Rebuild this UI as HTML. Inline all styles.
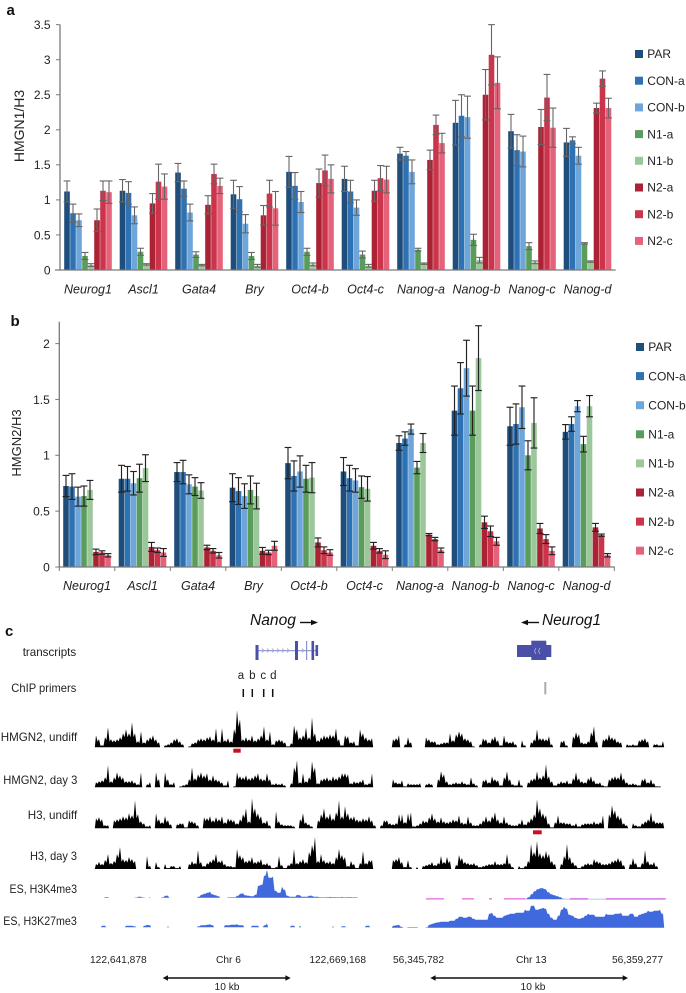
<!DOCTYPE html>
<html lang="en">
<head>
<meta charset="utf-8">
<title>HMGN1 and HMGN2 ChIP enrichment</title>
<style>
html,body{margin:0;padding:0;background:#fff;}
svg{display:block;}
text{font-family:"Liberation Sans",sans-serif;fill:#222;}
</style>
</head>
<body>
<svg id="fig" xmlns="http://www.w3.org/2000/svg" width="686" height="993" viewBox="0 0 686 993">
  <rect x="0" y="0" width="686" height="993" fill="#fff"/>
  <text x="6.5" y="15" font-size="15" font-weight="bold" style="fill:#111">a</text>
  <text x="10.5" y="326" font-size="15" font-weight="bold" style="fill:#111">b</text>
  <text x="5" y="636" font-size="15" font-weight="bold" style="fill:#111">c</text>
  <text transform="translate(24,126) rotate(-90)" text-anchor="middle" font-size="14">HMGN1/H3</text>
  <text transform="translate(21,443) rotate(-90)" text-anchor="middle" font-size="13">HMGN2/H3</text>
  <g id="chartA"></g>
  <g id="chartB"></g>

  <g>
    <text x="250" y="625" font-size="15.6" font-style="italic" style="fill:#111">Nanog</text>
    <g>
      <line x1="300" y1="622.5" x2="312" y2="622.5" stroke="#111" stroke-width="1.4"/>
      <polygon points="318,622.5 311,619.8 311,625.2" fill="#111"/>
    </g>
    <text x="542" y="625" font-size="15.4" font-style="italic" style="fill:#111">Neurog1</text>
    <g>
      <line x1="526" y1="622.5" x2="539" y2="622.5" stroke="#111" stroke-width="1.4"/>
      <polygon points="521,622.5 528,619.8 528,625.2" fill="#111"/>
    </g>
    <g fill="#4a4fa8">
      <rect x="257" y="650.2" width="60" height="1" fill="#7f83c4"/>
      <rect x="255.5" y="645" width="3" height="15"/>
      <rect x="295" y="641" width="3" height="19"/>
      <rect x="306" y="641" width="1.2" height="19" fill="#8f92cc"/>
      <rect x="311.5" y="641" width="2.6" height="19"/>
      <rect x="315.5" y="645" width="2.6" height="11"/>
      <path d="M262 648.5l2 2-2 2M267 648.5l2 2-2 2M272 648.5l2 2-2 2M277 648.5l2 2-2 2M282 648.5l2 2-2 2M287 648.5l2 2-2 2M302 648.5l2 2-2 2" fill="none" stroke="#9a9dd4" stroke-width=".8"/>
    </g>
    <g fill="#4a4fa8">
      <rect x="517" y="645" width="34.3" height="12"/>
      <rect x="531.3" y="640.7" width="15" height="19.3"/>
      <path d="M536 648l-1.5 3 1.5 3M540 648l-1.5 3 1.5 3" fill="none" stroke="#b5b7e2" stroke-width=".8"/>
    </g>
    <g font-size="11.5" text-anchor="middle">
      <text x="241" y="679">a</text><text x="252.3" y="679">b</text><text x="263.3" y="679">c</text><text x="273.3" y="679">d</text>
    </g>
    <g stroke="#111" stroke-width="1.5">
      <line x1="243.3" y1="689" x2="243.3" y2="697"/><line x1="252.3" y1="689" x2="252.3" y2="697"/><line x1="263.7" y1="689" x2="263.7" y2="697"/><line x1="272.7" y1="689" x2="272.7" y2="697"/>
    </g>
    <line x1="545.3" y1="682" x2="545.3" y2="694.3" stroke="#aaa" stroke-width="2"/>
    <g font-size="12">
      <text x="22.7" y="656" textLength="53.5" lengthAdjust="spacingAndGlyphs">transcripts</text>
      <text x="11.3" y="692" textLength="65" lengthAdjust="spacingAndGlyphs">ChIP primers</text>
      <text x="0.7" y="741" textLength="76.5" lengthAdjust="spacingAndGlyphs">HMGN2, undiff</text>
      <text x="3.3" y="784" textLength="74" lengthAdjust="spacingAndGlyphs">HMGN2, day 3</text>
      <text x="27.7" y="819" textLength="49.5" lengthAdjust="spacingAndGlyphs">H3, undiff</text>
      <text x="30" y="860" textLength="47" lengthAdjust="spacingAndGlyphs">H3, day 3</text>
      <text x="9.5" y="893" textLength="67.5" lengthAdjust="spacingAndGlyphs">ES, H3K4me3</text>
      <text x="3.3" y="925" textLength="73.5" lengthAdjust="spacingAndGlyphs">ES, H3K27me3</text>
    </g>
    <g id="tracks"></g>
    <rect x="233.3" y="748.7" width="7.4" height="4" fill="#c8101e"/>
    <rect x="533" y="830.3" width="8.7" height="4" fill="#c8101e"/>
    <g font-size="10.2">
      <text x="90" y="963">122,641,878</text>
      <text x="228.5" y="963" text-anchor="middle">Chr 6</text>
      <text x="366" y="963" text-anchor="end">122,669,168</text>
      <text x="393" y="963">56,345,782</text>
      <text x="531.3" y="963" text-anchor="middle">Chr 13</text>
      <text x="663" y="963" text-anchor="end">56,359,277</text>
    </g>
    <g>
      <line x1="166" y1="978" x2="287" y2="978" stroke="#111" stroke-width="1.5"/>
      <polygon points="162.7,978 168,975.2 168,980.8" fill="#111"/>
      <polygon points="290.7,978 285.4,975.2 285.4,980.8" fill="#111"/>
      <text x="227" y="990" text-anchor="middle" font-size="10.2">10 kb</text>
    </g>
    <g>
      <line x1="434" y1="978" x2="624" y2="978" stroke="#111" stroke-width="1.5"/>
      <polygon points="430.3,978 435.6,975.2 435.6,980.8" fill="#111"/>
      <polygon points="628,978 622.7,975.2 622.7,980.8" fill="#111"/>
      <text x="533" y="990" text-anchor="middle" font-size="10.2">10 kb</text>
    </g>
  </g>
</svg>

<script>
/* ---------- bar chart data ---------- */
var categories = ["Neurog1","Ascl1","Gata4","Bry","Oct4-b","Oct4-c","Nanog-a","Nanog-b","Nanog-c","Nanog-d"];
var seriesNames = ["PAR","CON-a","CON-b","N1-a","N1-b","N2-a","N2-b","N2-c"];
var seriesColors = ["#1f4e7d","#2f72b3","#6fa6da","#5a9c5a","#9cc79a","#aa2233","#cb344b","#e4637a"];

var hmgn1Ticks = ["0","0.5","1","1.5","2","2.5","3","3.5"];
var hmgn1Means = [
  [1.12,0.81,0.71,0.20,0.07,0.71,1.13,1.11],
  [1.13,1.10,0.78,0.26,0.08,0.95,1.26,1.19],
  [1.39,1.16,0.82,0.22,0.07,0.93,1.37,1.20],
  [1.08,1.01,0.66,0.20,0.06,0.78,1.09,0.88],
  [1.40,1.20,0.97,0.26,0.08,1.24,1.42,1.30],
  [1.30,1.12,0.89,0.22,0.06,1.13,1.31,1.29],
  [1.66,1.63,1.40,0.29,0.09,1.57,2.07,1.81],
  [2.10,2.20,2.18,0.43,0.14,2.50,3.07,2.67],
  [1.98,1.71,1.69,0.34,0.11,2.04,2.46,2.03],
  [1.82,1.85,1.63,0.38,0.12,2.31,2.73,2.31]
];
var hmgn1Errors = [
  [0.15,0.13,0.09,0.05,0.02,0.16,0.14,0.16],
  [0.16,0.16,0.12,0.05,0.01,0.14,0.25,0.18],
  [0.13,0.11,0.12,0.04,0.01,0.13,0.14,0.11],
  [0.20,0.18,0.13,0.05,0.02,0.14,0.19,0.24],
  [0.22,0.19,0.15,0.05,0.02,0.20,0.22,0.20],
  [0.18,0.16,0.11,0.05,0.02,0.15,0.18,0.19],
  [0.09,0.06,0.17,0.02,0.01,0.14,0.14,0.14],
  [0.32,0.30,0.30,0.08,0.04,0.36,0.43,0.37],
  [0.24,0.22,0.22,0.05,0.02,0.25,0.33,0.28],
  [0.20,0.05,0.12,0.01,0.01,0.07,0.11,0.14]
];

var hmgn2Ticks = ["0","0.5","1","1.5","2"];
var hmgn2Means = [
  [0.725,0.72,0.63,0.635,0.69,0.135,0.13,0.105],
  [0.79,0.79,0.75,0.795,0.885,0.18,0.15,0.13],
  [0.85,0.85,0.74,0.72,0.685,0.175,0.145,0.105],
  [0.71,0.68,0.635,0.69,0.635,0.145,0.13,0.19],
  [0.93,0.815,0.855,0.79,0.80,0.22,0.15,0.13],
  [0.855,0.795,0.775,0.715,0.70,0.19,0.145,0.11],
  [1.11,1.15,1.235,0.89,1.11,0.29,0.25,0.15],
  [1.40,1.60,1.78,1.40,1.87,0.40,0.32,0.23],
  [1.26,1.28,1.43,1.00,1.29,0.345,0.25,0.145],
  [1.21,1.28,1.44,1.10,1.44,0.355,0.285,0.105]
];
var hmgn2Errors = [
  [0.095,0.115,0.085,0.09,0.085,0.025,0.015,0.015],
  [0.12,0.11,0.105,0.125,0.12,0.04,0.02,0.035],
  [0.085,0.105,0.085,0.08,0.07,0.02,0.02,0.025],
  [0.125,0.12,0.11,0.125,0.115,0.03,0.02,0.04],
  [0.14,0.135,0.14,0.12,0.135,0.04,0.03,0.025],
  [0.125,0.115,0.105,0.10,0.11,0.03,0.02,0.035],
  [0.065,0.06,0.045,0.055,0.085,0.01,0.015,0.02],
  [0.22,0.23,0.25,0.22,0.29,0.055,0.047,0.035],
  [0.17,0.18,0.19,0.13,0.225,0.045,0.04,0.035],
  [0.065,0.065,0.05,0.07,0.095,0.035,0.01,0.015]
];

/* ---------- browser track signal (read-density per genomic bin) ---------- */
var hmgn2UndiffNanog = [0,12,8,2,10,20,8,7,8,10,14,18,14,25,14,6,16,5,8,10,12,8,5,0,2,3,5,8,9,6,3,0,1,4,5,8,9,8,10,11,8,19,6,19,7,9,6,18,37,28,8,10,8,12,7,9,12,21,8,16,3,7,8,7,5,1,4,22,18,10,12,20,10,30,14,7,10,12,11,13,12,19,8,2,12,11,5,6,2,18,14,10,8,9];
var hmgn2Day3Nanog = [0,5,6,7,10,22,6,10,15,12,10,6,6,7,5,3,15,0,3,5,0,15,8,0,15,8,3,5,0,1,2,3,8,20,9,13,15,12,14,8,12,8,7,5,2,7,0,1,15,11,10,12,9,10,12,14,9,8,14,8,3,4,3,4,2,0,4,20,27,5,14,6,10,26,20,4,8,9,10,8,11,9,11,14,14,13,4,6,5,6,8,3,4,14];
var h3UndiffNanog = [0,10,11,9,3,3,0,8,9,10,12,11,15,13,28,14,7,5,2,3,0,15,9,6,12,8,4,0,4,5,5,1,8,7,6,3,0,11,10,12,8,11,9,12,6,10,9,8,5,9,14,20,7,30,20,15,12,6,8,3,0,17,7,4,3,3,3,2,0,9,15,6,4,2,0,8,14,20,12,15,10,16,28,12,22,15,11,12,9,8,10,9,12,8,3,0,3,8,8,5,4,5,3,14,6,10,16];
var h3Day3Nanog = [0,5,7,5,9,15,6,8,15,22,10,9,12,10,8,0,0,0,13,3,0,7,2,0,5,1,3,3,1,3,0,0,5,8,6,19,7,3,6,8,10,15,8,9,5,3,3,2,20,14,12,8,9,12,7,8,10,5,6,4,1,2,13,4,1,4,6,20,6,8,10,7,17,24,32,8,15,9,7,8,6,12,20,14,12,3,8,5,1,6,18,6,9,9];
var k4me3Nanog = [0,0,0,0,0.6,0.6,0,0,0,0,0,0,0,0,0.2,1,1,0.3,0,0.4,0,0,0,0.5,2,2,0,0,0,0,0,0,0,0,0,1,3,4,5,6,3.5,2.5,1.5,0,0,0.4,0.4,0.5,2,4,4.5,2.5,2,1.5,3,12,13,22,28,20,21,7,5,11,8,2,1,1,3,2.5,1,1,2,2,1,1,0.5,0.4,0.6,0.8,0.6,0.6,0.5,0.8,0.5,0.6,0.6,0.5,0.5,0,0,0,0,0];
var k27me3Nanog = [0,0,0,1.5,1.5,0,0,0,0,0,0,1.5,1.5,1.5,1,0,0,1.5,2.5,2,0,0,0,0,0,1,0,0,0,0,0,0,0,0,0,1,2,2,2.5,3,2,0,0,0,2,2,2.5,2.5,3,2,2,0,0,1.5,1.5,1.5,0,2,3.5,0,0,0,0,0,0,0,1.5,1.5,0,1.5,0,0,0,0,0,0,0,0,0,0,1,0,0,1,1,0,0,0,0,0,0,1.5,1.5,0];

var hmgn2UndiffNeurog = [8,9,12,0,3,10,5,0,0,0,0,10,8,6,6,3,4,5,5,14,7,13,16,14,9,8,6,1,0,3,9,8,5,9,11,7,2,12,6,5,6,3,0,7,2,0,5,8,18,9,9,8,11,3,0,0,6,7,2,0,11,15,13,5,4,6,15,21,6,0,8,9,13,10,9,6,5,0,3,2,3,2,7,8,9,6,0,3,3,2,6];
var hmgn2Day3Neurog = [8,5,4,7,1,4,3,3,3,4,0,3,4,3,0,8,16,13,6,3,4,5,4,6,4,3,10,4,2,0,7,8,5,11,8,7,2,10,16,8,3,2,8,2,0,5,8,9,16,10,12,23,11,6,2,4,6,5,7,4,9,15,9,6,5,9,11,7,4,5,2,1,8,10,11,10,15,9,5,3,4,3,2,8,9,5,8,4,1,1,0];
var h3UndiffNeurog = [3,5,14,9,6,15,8,2,3,5,8,7,11,15,10,7,11,7,6,7,9,8,13,6,5,12,6,3,3,5,8,12,8,12,16,9,6,12,6,4,3,3,5,9,4,7,10,14,29,20,15,13,5,1,6,13,6,6,5,5,3,5,2,4,5,5,5,7,5,6,13,0,14,23,18,13,11,5,3,0,5,3,2,5,7,9,16,8,6,6,6];
var h3Day3Neurog = [9,10,12,7,2,9,2,0,2,0,3,4,5,7,4,6,13,7,12,8,0,4,14,11,7,6,5,6,4,2,3,4,5,5,8,5,5,6,15,6,2,0,3,1,3,8,25,17,28,16,14,18,15,8,5,0,5,13,25,12,7,4,1,3,5,6,5,10,8,7,5,5,6,8,9,11,9,4,0,5,11,6,2,6,19,8,5,7,3,0,0];
var k4me3Neurog = [0,0,0,0,0,0,0,0,0,0,0,0,0,0,0,0,0,0,0,0,0,0,0,0,0,0,0,0,0,0,0,0,0,0,0,0,0,0,0,0,0,0,0,0,0.5,2,5,8,10,11,11,10,7,5,4,3,2,0.5,0.4,0.4,0.4,0.4,0.4,0.4,0.4,0.4,0.4,0.4,0.4,0.4,0.4,0.4,0.4,0.4,0.4,0.4,0.4,0.4,0.4,0.4,0.4,0.4,0.4,0.4,0.4,0.4,0.4,0.4,0.4,0.4,0.4];
var k4me3NeurogPink = [0,0,0,0,0,0,0,0,0,0,0,1,1,1,1,1,1,0,0,0,0,0,0,1,1,1,1,0,0,0,0,0,1,0,0,0,0,1,1,1,1,1,1,1,0,0,0,0,0,0,0,0,0,0,0,0,0,0,0,1,1,1,1,1,1,0,0,0,0,0,0,1,1,1,1,1,1,1,1,1,1,1,1,1,1,1,1,1,1,1,1];
var k27me3Neurog = [2,2.5,3,1,0,0.4,0.4,0.4,0.4,0,0,0.3,3,4,5,5.5,6,6,6,7,7,9,11,11,10,11,11,9,8,8,8,8,14,15,12,10,10,12,13,14,14,15,15,15,18,17,22,22,18,19,20,19,14,10,8,12,18,21,19,13,12,10,9,10,12,14,13,13,11,11,11,14,13,13,14,14,15,12,12,14,14,11,13,14,15,17,16,17,17,18,14];

var SVG_NS = "http://www.w3.org/2000/svg";
function mk(parent, tag, attrs, text) {
  var el = document.createElementNS(SVG_NS, tag);
  for (var k in attrs) { el.setAttribute(k, attrs[k]); }
  if (text !== undefined) { el.textContent = text; }
  parent.appendChild(el);
  return el;
}
function slug(s) { return s.toLowerCase().replace(/[^a-z0-9]+/g, "-"); }

function drawBarChart(root, cfg) {
  function yOf(v) { return cfg.y0 - v * cfg.pxPerUnit; }
  function groupX(i) { return cfg.firstBar + i * cfg.groupStep; }
  function barX(i, s) { return groupX(i) + s * cfg.barStep; }

  var yAxis = mk(root, "line", {x1: cfg.axisX, x2: cfg.axisX, y1: cfg.axisTop, y2: cfg.y0, stroke: "#7a7a7a", "stroke-width": 1.3});
  
  

  cfg.ticks.forEach(function (t) {
    var v = parseFloat(t);
    var tick = mk(root, "line", {x1: cfg.axisX - 4, x2: cfg.axisX, y1: yOf(v), y2: yOf(v), stroke: "#7a7a7a", "stroke-width": 1});
    
    
    var lab = mk(root, "text", {x: cfg.axisX - 9.5, y: yOf(v) + 4.3, "text-anchor": "end", "font-size": 12}, t);
    
    
  });

  categories.forEach(function (cat, i) {
    cfg.means[i].forEach(function (m, s) {
      var x = barX(i, s);
      var bar = mk(root, "rect", {x: x + 0.2, y: yOf(m), width: cfg.barStep - 0.4, height: cfg.y0 - yOf(m), fill: seriesColors[s]});
      
      
    });
  });

  var xAxis = mk(root, "line", {x1: cfg.axisX - (cfg.groupTicks ? 0 : 5), x2: cfg.axisEnd, y1: cfg.y0, y2: cfg.y0, stroke: "#7a7a7a", "stroke-width": 1.3});
  
  

  if (cfg.groupTicks) {
    for (var g = 0; g <= categories.length; g++) {
      var gx = cfg.axisX + g * cfg.groupStep;
      var gt = mk(root, "line", {x1: gx, x2: gx, y1: cfg.y0, y2: cfg.y0 + 4, stroke: "#7a7a7a", "stroke-width": 1});
      
      
    }
  }

  categories.forEach(function (cat, i) {
    cfg.means[i].forEach(function (m, s) {
      var cx = barX(i, s) + cfg.barStep / 2;
      var e = cfg.errors[i][s];
      var eb = mk(root, "g", {stroke: cfg.errColor, "stroke-width": cfg.errWidth, fill: "none"});
      
      
      mk(eb, "line", {x1: cx, x2: cx, y1: yOf(m + e), y2: yOf(Math.max(0, m - e))});
      mk(eb, "line", {x1: cx - 3.4, x2: cx + 3.4, y1: yOf(m + e), y2: yOf(m + e)});
      mk(eb, "line", {x1: cx - 3.4, x2: cx + 3.4, y1: yOf(Math.max(0, m - e)), y2: yOf(Math.max(0, m - e))});
    });
    var cl = mk(root, "text", {x: groupX(i) + 4 * cfg.barStep, y: cfg.labelY, "text-anchor": "middle", "font-size": 12.5, "font-style": "italic"}, cat);
    
    
  });

  seriesNames.forEach(function (name, s) {
    var ly = cfg.legendY + s * cfg.legendStep;
    var sw = mk(root, "rect", {x: cfg.legendX, y: ly - 4, width: 8, height: 8, fill: seriesColors[s]});
    
    
    var lt = mk(root, "text", {x: cfg.legendX + 12.3, y: ly + 4.2, "font-size": 12}, name);
    
    
  });
}

drawBarChart(document.getElementById("chartA"), {
  means: hmgn1Means, errors: hmgn1Errors, ticks: hmgn1Ticks,
  y0: 270, pxPerUnit: 70.1, axisX: 60, axisTop: 24.6, axisEnd: 615.7,
  firstBar: 64, groupStep: 55.5, barStep: 6, labelY: 293.5,
  errColor: "#666", errWidth: 1.1, groupTicks: false,
  legendX: 635, legendY: 54, legendStep: 26.7
});
drawBarChart(document.getElementById("chartB"), {
  means: hmgn2Means, errors: hmgn2Errors, ticks: hmgn2Ticks,
  y0: 567, pxPerUnit: 111.7, axisX: 59.3, axisTop: 321.7, axisEnd: 614.8,
  firstBar: 63, groupStep: 55.5, barStep: 6, labelY: 590,
  errColor: "#222", errWidth: 1.15, groupTicks: true,
  legendX: 636, legendY: 347, legendStep: 29.1
});

function drawTrack(root, values, left, base, color, name, dip) {
  var BIN = 3;
  function xOf(i) { return left + i * BIN; }
  function yOf(v) { return base - v; }
  var g = mk(root, "g", {fill: color});
  
  
  var i = 0;
  while (i < values.length) {
    if (values[i] > 0) {
      var start = i, pts = [xOf(start) - 1.2 + "," + base];
      while (i < values.length && values[i] > 0) {
        pts.push(xOf(i) + "," + yOf(values[i]));
        if (i + 1 < values.length && values[i + 1] > 0) {
          pts.push((xOf(i) + BIN / 2) + "," + yOf(Math.min(values[i], values[i + 1]) * dip));
        }
        i++;
      }
      pts.push(xOf(i - 1) + 1.2 + "," + base);
      mk(g, "polygon", {points: pts.join(" ")});
    } else { i++; }
  }
}

function drawPink(root, flags, left, y) {
  var g = mk(root, "g", {fill: "#e86ae0"});
  
  
  flags.forEach(function (f, i) {
    if (f) { mk(g, "rect", {x: left + i * 3, y: y, width: 3, height: 1.3}); }
  });
}

var trackRoot = document.getElementById("tracks");
var LEFT_A = 93, LEFT_B = 393;
drawTrack(trackRoot, hmgn2UndiffNanog, LEFT_A, 747.3, "#000", "track-hmgn2-undiff-nanog", 0.72);
drawTrack(trackRoot, hmgn2Day3Nanog, LEFT_A, 787.3, "#000", "track-hmgn2-day3-nanog", 0.72);
drawTrack(trackRoot, h3UndiffNanog, LEFT_A, 828.3, "#000", "track-h3-undiff-nanog", 0.72);
drawTrack(trackRoot, h3Day3Nanog, LEFT_A, 869, "#000", "track-h3-day3-nanog", 0.72);
drawTrack(trackRoot, k4me3Nanog, LEFT_A, 897.7, "#3f69dc", "track-h3k4me3-nanog", 1);
drawTrack(trackRoot, k27me3Nanog, LEFT_A, 927.3, "#3f69dc", "track-h3k27me3-nanog", 1);
drawTrack(trackRoot, hmgn2UndiffNeurog, LEFT_B, 747.3, "#000", "track-hmgn2-undiff-neurog1", 0.72);
drawTrack(trackRoot, hmgn2Day3Neurog, LEFT_B, 787.3, "#000", "track-hmgn2-day3-neurog1", 0.72);
drawTrack(trackRoot, h3UndiffNeurog, LEFT_B, 828.3, "#000", "track-h3-undiff-neurog1", 0.72);
drawTrack(trackRoot, h3Day3Neurog, LEFT_B, 869, "#000", "track-h3-day3-neurog1", 0.72);
drawPink(trackRoot, k4me3NeurogPink, LEFT_B, 898.2);
drawTrack(trackRoot, k4me3Neurog, LEFT_B, 899.3, "#3f69dc", "track-h3k4me3-neurog1", 1);
drawTrack(trackRoot, k27me3Neurog, LEFT_B, 927.7, "#3f69dc", "track-h3k27me3-neurog1", 1);
</script>
</body>
</html>
